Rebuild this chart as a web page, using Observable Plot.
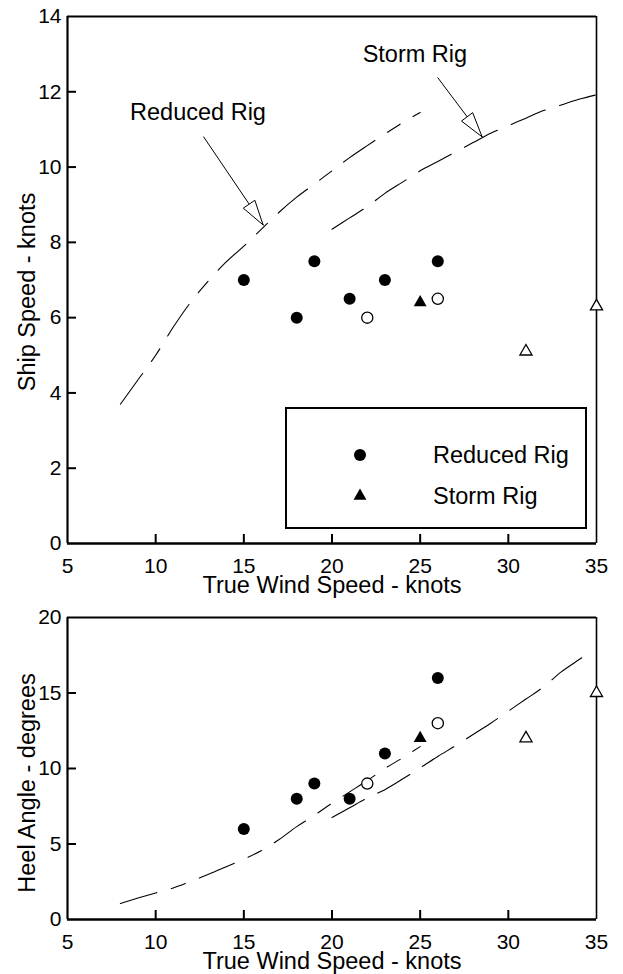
<!DOCTYPE html>
<html>
<head>
<meta charset="utf-8">
<script src="https://cdn.jsdelivr.net/npm/d3@7"></script>
<script src="https://cdn.jsdelivr.net/npm/@observablehq/plot@0.6"></script>
<style>
  html, body { margin: 0; padding: 0; background: #fff; }
  #wrap { position: relative; width: 623px; height: 974px; overflow: hidden; }
  #wrap svg { display: block; }
  .legend { position: absolute; box-sizing: border-box; border: 2px solid #000; background: #fff;
            font-family: 'Liberation Sans', Arial, Helvetica, sans-serif; font-size: 23.5px; color: #000; }
  .legend .lab { position: absolute; white-space: nowrap; line-height: 1; transform: translateY(-50%); }
  .legend svg { position: absolute; left: 0; top: 0; overflow: visible; }
</style>
</head>
<body>
<div id="wrap"></div>
<script>
// ---------- data ----------
const xTitle = "True Wind Speed - knots";
const speedTitle = "Ship Speed - knots";
const heelTitle = "Heel Angle - degrees";

const xDomain = [5, 35];
const xTicks = [5, 10, 15, 20, 25, 30, 35];
const speedDomain = [0, 14];
const speedTicks = [0, 2, 4, 6, 8, 10, 12, 14];
const heelDomain = [0, 20];
const heelTicks = [0, 5, 10, 15, 20];

// measured points
const windFilledCircle = [15, 18, 19, 21, 23, 26];
const speedFilledCircle = [7, 6, 7.5, 6.5, 7, 7.5];
const heelFilledCircle = [6, 8, 9, 8, 11, 16];

const windOpenCircle = [22, 26];
const speedOpenCircle = [6, 6.5];
const heelOpenCircle = [9, 13];

const windFilledTriangle = [25];
const speedFilledTriangle = [6.4];
const heelFilledTriangle = [12];

const windOpenTriangle = [31, 35];
const speedOpenTriangle = [5.1, 6.3];
const heelOpenTriangle = [12, 15];

// predicted curves
const windReduced = [8, 9, 10, 11, 12, 13, 14, 15, 16, 17, 18, 19, 20, 21, 22, 23, 24, 25];
const speedReduced = [3.7, 4.35, 5.0, 5.75, 6.42, 6.98, 7.48, 7.9, 8.35, 8.8, 9.2, 9.55, 9.9, 10.25, 10.57, 10.88, 11.18, 11.45];
const heelReduced = [1.06, 1.42, 1.76, 2.09, 2.53, 3.0, 3.5, 4.0, 4.57, 5.3, 6.15, 6.9, 7.7, 8.45, 9.2, 10.0, 10.7, 11.45];

const windStormSpeed = [20, 21, 22, 23, 24, 25, 26, 27, 28, 29, 30, 31, 32, 33, 34, 35];
const speedStorm = [8.35, 8.65, 8.95, 9.3, 9.6, 9.9, 10.15, 10.4, 10.65, 10.9, 11.1, 11.3, 11.5, 11.65, 11.8, 11.92];
const windStormHeel = [20, 21, 22, 23, 24, 25, 26, 27, 28, 29, 30, 31, 32, 33, 34, 34.5];
const heelStorm = [6.75, 7.4, 8.05, 8.6, 9.3, 10.05, 10.8, 11.5, 12.25, 13.0, 13.8, 14.6, 15.4, 16.4, 17.2, 17.6];

// annotations (top panel)
const noteLabels = ["Reduced Rig", "Storm Rig"];
const noteTextX = [12.4, 24.7];
const noteTextY = [11.45, 13.0];
const noteFromX = [12.71, 25.99];
const noteFromY = [10.81, 12.38];
const noteToX = [16.12, 28.54];
const noteToY = [8.45, 10.79];

// legend
const legendLabels = ["Reduced Rig", "Storm Rig"];
const legendSymbols = ["circle", "triangle"];

// ---------- helpers ----------
const FONT = "'Liberation Sans', Arial, Helvetica, sans-serif";
const TITLE_SIZE = 23.5;
const W = 623, ML = 67, MR = 27;
const zip = (xs, ys) => xs.map((x, i) => ({x, y: ys[i]}));

function arrowHeads(index, scales) {
  const g = d3.create("svg:g");
  noteLabels.forEach((_, i) => {
    const x0 = scales.x(noteFromX[i]), y0 = scales.y(noteFromY[i]);
    const x1 = scales.x(noteToX[i]), y1 = scales.y(noteToY[i]);
    const dx = x1 - x0, dy = y1 - y0, len = Math.hypot(dx, dy);
    const ux = dx / len, uy = dy / len, L = 25, H = 7;
    const bx = x1 - ux * L, by = y1 - uy * L;
    g.append("path")
      .attr("d", `M${x1},${y1}L${bx - uy * H},${by + ux * H}L${bx + uy * H},${by - ux * H}Z`)
      .attr("fill", "#fff").attr("stroke", "#000").attr("stroke-width", 1);
  });
  return g.node();
}

function panel({height, marginTop, marginBottom, yDomain, yTicks, yInner, yTitle, yTitleDy,
                circles, openCircles, triangles, openTriangles, reduced, storm, reducedWind, stormWind, notes}) {
  const plotH = height - marginTop - marginBottom;
  const plotW = W - ML - MR;
  const marks = [
    // inward ticks
    Plot.ruleX(xTicks.slice(1, -1), {x: d => d, insetTop: plotH - 9, stroke: "#000", strokeWidth: 2}),
    Plot.ruleY(yInner, {y: d => d, insetRight: plotW - 9, stroke: "#000", strokeWidth: 2}),
    // frame
    Plot.ruleX([xDomain[0]], {x: d => d, stroke: "#000", strokeWidth: 2.2}),
    Plot.ruleX([xDomain[1]], {x: d => d, stroke: "#000", strokeWidth: 1.6}),
    Plot.ruleY([yDomain[0]], {y: d => d, stroke: "#000", strokeWidth: 2.4}),
    Plot.ruleY([yDomain[1]], {y: d => d, stroke: "#000", strokeWidth: 2}),
    // curves
    Plot.line(zip(reducedWind, reduced), {x: "x", y: "y", stroke: "#000", strokeWidth: 1.1,
      strokeDasharray: "38,15,15,15", curve: "catmull-rom"}),
    Plot.line(zip(stormWind, storm), {x: "x", y: "y", stroke: "#000", strokeWidth: 1.1,
      strokeDasharray: "37,15", curve: "catmull-rom"}),
    // points
    Plot.dot(zip(circles[0], circles[1]), {x: "x", y: "y", r: 6, fill: "#000", stroke: "none"}),
    Plot.dot(zip(openCircles[0], openCircles[1]), {x: "x", y: "y", r: 5.6, fill: "#fff", stroke: "#000", strokeWidth: 1.3}),
    Plot.dot(zip(triangles[0], triangles[1]), {x: "x", y: "y", r: 4.8, symbol: "triangle", fill: "#000", stroke: "none"}),
    Plot.dot(zip(openTriangles[0], openTriangles[1]), {x: "x", y: "y", r: 4.5, symbol: "triangle", fill: "#fff", stroke: "#000", strokeWidth: 1.3}),
    // axis titles
    Plot.text([xTitle], {text: d => d, frameAnchor: "bottom", textAnchor: "middle", lineAnchor: "middle",
      dy: 41.5, fontSize: TITLE_SIZE, fill: "#000"}),
    Plot.text([yTitle], {text: d => d, frameAnchor: "left", textAnchor: "middle", lineAnchor: "middle",
      rotate: -90, dx: -40.5, dy: yTitleDy, fontSize: TITLE_SIZE, fill: "#000"})
  ];
  if (notes) {
    const idx = noteLabels.map((_, i) => i);
    marks.push(
      Plot.link(idx, {x1: i => noteFromX[i], y1: i => noteFromY[i], x2: i => noteToX[i], y2: i => noteToY[i],
        stroke: "#000", strokeWidth: 1}),
      arrowHeads,
      Plot.text(idx, {x: i => noteTextX[i], y: i => noteTextY[i], text: i => noteLabels[i],
        fontSize: TITLE_SIZE, fill: "#000"})
    );
  }
  return Plot.plot({
    width: W, height, marginLeft: ML, marginRight: MR, marginTop, marginBottom,
    style: {fontFamily: FONT, fontSize: "21px", color: "#000", background: "#fff", overflow: "visible"},
    x: {domain: xDomain, ticks: xTicks, tickSize: 0, tickPadding: 15, label: null},
    y: {domain: yDomain, ticks: yTicks, tickSize: 0, tickPadding: 6, label: null},
    marks
  });
}

const wrap = document.getElementById("wrap");

const topChart = panel({
  height: 600, marginTop: 16, marginBottom: 57,
  yDomain: speedDomain, yTicks: speedTicks, yInner: speedTicks.slice(1, -1), yTitle: speedTitle, yTitleDy: 12,
  circles: [windFilledCircle, speedFilledCircle], openCircles: [windOpenCircle, speedOpenCircle],
  triangles: [windFilledTriangle, speedFilledTriangle], openTriangles: [windOpenTriangle, speedOpenTriangle],
  reduced: speedReduced, storm: speedStorm, reducedWind: windReduced, stormWind: windStormSpeed, notes: true
});
const bottomChart = panel({
  height: 374, marginTop: 17, marginBottom: 55,
  yDomain: heelDomain, yTicks: heelTicks, yInner: heelTicks.slice(1, -1), yTitle: heelTitle, yTitleDy: 14.5,
  circles: [windFilledCircle, heelFilledCircle], openCircles: [windOpenCircle, heelOpenCircle],
  triangles: [windFilledTriangle, heelFilledTriangle], openTriangles: [windOpenTriangle, heelOpenTriangle],
  reduced: heelReduced, storm: heelStorm, reducedWind: windReduced, stormWind: windStormHeel, notes: false
});
wrap.appendChild(topChart);
wrap.appendChild(bottomChart);

// legend overlay inside the top panel
const legend = document.createElement("div");
legend.className = "legend";
Object.assign(legend.style, {left: "285px", top: "407px", width: "302px", height: "122px"});
const lsvg = d3.create("svg").attr("width", 302).attr("height", 122);
legendLabels.forEach((label, i) => {
  const cy = 46 + i * 41;
  const sym = legendSymbols[i] === "circle" ? d3.symbolCircle : d3.symbolTriangle;
  const size = legendSymbols[i] === "circle" ? Math.PI * 36 : Math.PI * 4.8 * 4.8;
  lsvg.append("path").attr("transform", `translate(73,${cy})`)
    .attr("d", d3.symbol(sym, size)()).attr("fill", "#000");
  const span = document.createElement("span");
  span.className = "lab";
  span.textContent = label;
  Object.assign(span.style, {left: "146px", top: (cy + 1) + "px"});
  legend.appendChild(span);
});
legend.appendChild(lsvg.node());
wrap.appendChild(legend);
</script>
</body>
</html>
